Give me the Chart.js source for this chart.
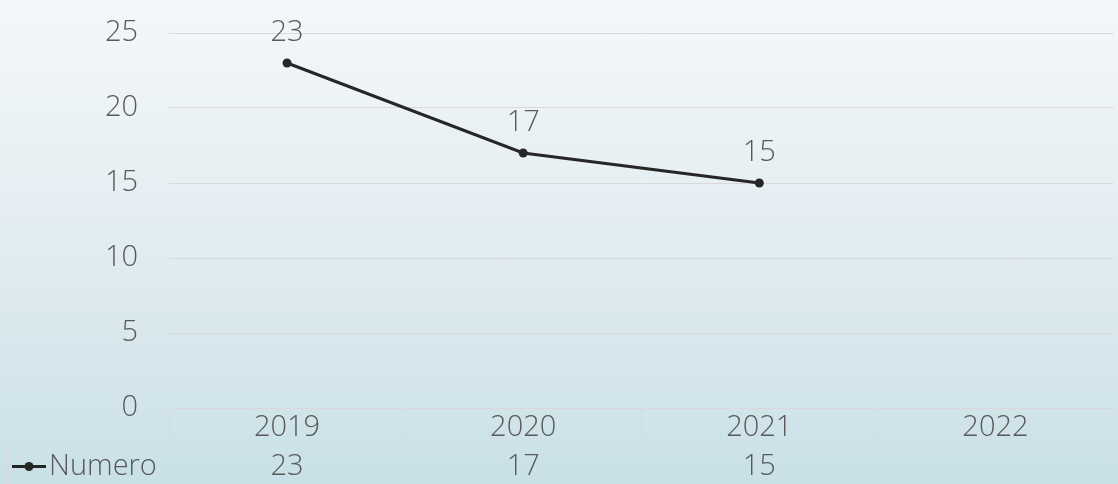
<!DOCTYPE html>
<html>
<head>
<meta charset="utf-8">
<script src="https://cdn.jsdelivr.net/npm/chart.js@4"></script>
<style>
  html, body { margin: 0; padding: 0; }
  body { width: 1118px; height: 484px; overflow: hidden;
    background: linear-gradient(to bottom, #f4f7f9 0%, #e4eef2 45%, #c9e0e7 100%); }
  #wrap { position: relative; width: 1118px; height: 484px; }
</style>
</head>
<body>
<div id="wrap"><canvas id="chart"></canvas></div>
<script>
"use strict";

const years = ["2019", "2020", "2021", "2022"];
const numero = [23, 17, 15, null];
const seriesName = "Numero";
const yTicks = [0, 5, 10, 15, 20, 25];

const FONT = "'Open Sans', sans-serif";
const FONT_SIZE = 29;
const TEXT = "#595959";
const LINE = "#262626";
const GRID = "#d9d9d9";

// value labels above each point
const pointLabels = {
  id: "pointLabels",
  afterDatasetsDraw(chart) {
    const ctx = chart.ctx;
    const meta = chart.getDatasetMeta(0);
    ctx.save();
    ctx.font = `300 ${FONT_SIZE}px ${FONT}`;
    ctx.fillStyle = TEXT;
    ctx.textAlign = "center";
    ctx.textBaseline = "middle";
    meta.data.forEach((pt, i) => {
      const v = numero[i];
      if (v === null || v === undefined) return;
      ctx.fillText(String(v), pt.x, pt.y - 30);
    });
    ctx.restore();
  }
};

// data table under the plot
const dataTable = {
  id: "dataTable",
  afterDraw(chart) {
    const ctx = chart.ctx;
    const area = chart.chartArea;
    const x = chart.scales.x;
    const top = area.bottom;
    const mid = top + 37;
    const bottom = chart.height;
    const colW = (area.right - area.left) / years.length;
    ctx.save();
    ctx.strokeStyle = GRID;
    ctx.lineWidth = 1;
    ctx.beginPath();
    ctx.moveTo(area.left, top + 0.5);
    ctx.lineTo(area.right, top + 0.5);
    ctx.moveTo(8, mid + 0.5);
    ctx.lineTo(area.right, mid + 0.5);
    ctx.moveTo(8.5, mid);
    ctx.lineTo(8.5, bottom);
    for (let i = 0; i < years.length; i += 1) {
      const lx = Math.round(area.left + colW * i) + 0.5;
      ctx.moveTo(lx, top);
      ctx.lineTo(lx, bottom);
    }
    ctx.stroke();

    ctx.font = `300 ${FONT_SIZE}px ${FONT}`;
    ctx.fillStyle = TEXT;
    ctx.textAlign = "center";
    ctx.textBaseline = "middle";
    years.forEach((y, i) => {
      const cx = x.getPixelForValue(i);
      ctx.fillText(y, cx, (top + mid) / 2 + 1);
      const v = numero[i];
      if (v !== null && v !== undefined) {
        ctx.fillText(String(v), cx, (mid + bottom) / 2 + 2);
      }
    });

    // legend key
    const ky = (mid + bottom) / 2 + 2;
    ctx.strokeStyle = LINE;
    ctx.lineWidth = 3;
    ctx.beginPath();
    ctx.moveTo(12, ky);
    ctx.lineTo(46, ky);
    ctx.stroke();
    ctx.fillStyle = LINE;
    ctx.beginPath();
    ctx.arc(29, ky, 4.5, 0, Math.PI * 2);
    ctx.fill();
    ctx.fillStyle = TEXT;
    ctx.textAlign = "left";
    ctx.fillText(seriesName, 49, ky);
    ctx.restore();
  }
};

new Chart(document.getElementById("chart"), {
  type: "line",
  data: {
    labels: years,
    datasets: [{
      label: seriesName,
      data: numero,
      borderColor: LINE,
      backgroundColor: LINE,
      borderWidth: 3,
      pointRadius: 4.5,
      pointBackgroundColor: LINE,
      pointBorderWidth: 0,
      tension: 0,
      spanGaps: false
    }]
  },
  options: {
    responsive: true,
    maintainAspectRatio: false,
    animation: false,
    layout: { padding: { top: 33, right: 0, bottom: 76, left: 0 } },
    plugins: { legend: { display: false }, tooltip: { enabled: false } },
    scales: {
      x: {
        type: "category",
        offset: true,
        display: false
      },
      y: {
        min: 0,
        max: 25,
        afterBuildTicks(scale) { scale.ticks = yTicks.map(v => ({ value: v })); },
        afterFit(scale) { scale.width = 169; },
        border: { display: false },
        grid: { color: GRID, lineWidth: 1, drawTicks: true, tickLength: 31, tickColor: "rgba(0,0,0,0)" },
        ticks: {
          color: TEXT,
          padding: 0,
          font: { family: FONT, size: FONT_SIZE, weight: 300 }
        }
      }
    }
  },
  plugins: [pointLabels, dataTable]
});
</script>
</body>
</html>
